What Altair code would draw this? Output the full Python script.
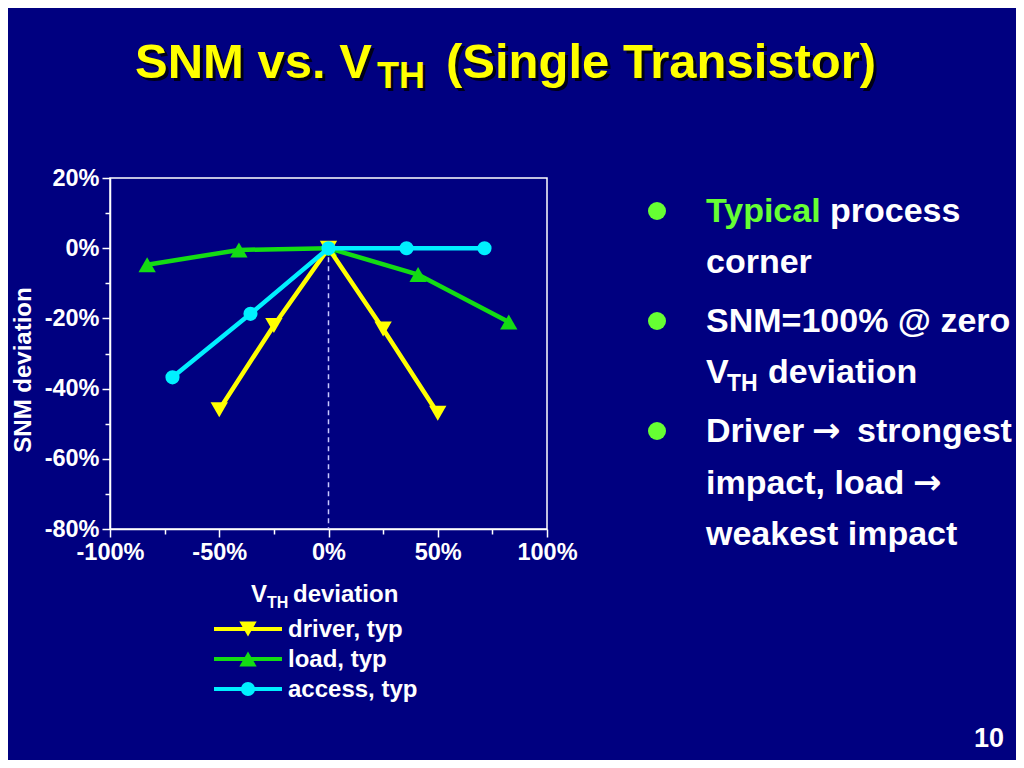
import altair as alt
import pandas as pd

# ---------------- data ----------------
series_names = ["driver, typ", "load, typ", "access, typ"]
series_colors = ["#FFFF00", "#14DC14", "#00F0FF"]
series_shapes = ["triangle-down", "triangle-up", "circle"]

driver_x = [-50, -25, 0, 25, 50]
driver_y = [-46, -22, 0, -23, -47]
load_x = [-83, -41, 0, 41, 82.5]
load_y = [-4.7, -0.5, 0, -7.5, -21]
access_x = [-71.4, -35.7, 0, 35.7, 71.4]
access_y = [-36.8, -18.7, 0, 0, 0]

x_major = [-100, -50, 0, 50, 100]
x_minor = [-75, -25, 25, 75]
y_major = [20, 0, -20, -40, -60, -80]
y_minor = [10, -10, -30, -50, -70]
zero_line_x = [0]
zero_line_y = [0]
zero_line_y2 = [-80]

title_parts = ["SNM vs. V", "TH", "(Single Transistor)"]
x_title_parts = ["V", "TH", "deviation"]
y_title = "SNM deviation"
bullet1 = ["Typical", "process", "corner"]
bullet2 = ["SNM=100% @ zero", "V", "TH", "deviation"]
bullet3 = ["Driver", "\u2192", "strongest", "impact, load", "\u2192", "weakest impact"]
page_number = "10"

BG = "#000080"
FONT = "Liberation Sans"
W, H = 437, 351

xs = alt.Scale(domain=[-100, 100], nice=False, zero=False)
ys = alt.Scale(domain=[-80, 20], nice=False, zero=False)

label_expr = "(datum.value < 0 ? '-' : '') + abs(datum.value) + '%'"

x_axis_major = alt.Axis(values=x_major, orient="bottom", tickSize=8, tickWidth=1.5,
                        tickColor="white", domainColor="white", domainWidth=1.5,
                        labelColor="white", labelFont=FONT, labelFontSize=23.5,
                        labelFontWeight="bold", labelPadding=3, grid=False, title=None,
                        labelExpr=label_expr, labelFlush=False, labelOverlap=False)
y_axis_major = alt.Axis(values=y_major, orient="left", tickSize=8, tickWidth=1.5,
                        tickColor="white", domainColor="white", domainWidth=1.5,
                        labelColor="white", labelFont=FONT, labelFontSize=23.5,
                        labelFontWeight="bold", labelPadding=3, grid=False, title=None,
                        labelExpr=label_expr, labelFlush=False, labelOverlap=False)
x_axis_minor = alt.Axis(values=x_minor, orient="bottom", tickSize=5, tickWidth=1.5,
                        tickColor="white", domain=False, labels=False, grid=False, title=None)
y_axis_minor = alt.Axis(values=y_minor, orient="left", tickSize=5, tickWidth=1.5,
                        tickColor="white", domain=False, labels=False, grid=False, title=None)

layers = []

# dashed zero line (carries the minor ticks)
zdf = pd.DataFrame({"x": zero_line_x, "y": zero_line_y, "y2": zero_line_y2})
layers.append(
    alt.Chart(zdf).mark_rule(color="#C8C8FF", strokeWidth=1.5, strokeDash=[5, 4]).encode(
        x=alt.X("x:Q", scale=xs, axis=x_axis_minor),
        y=alt.Y("y:Q", scale=ys, axis=y_axis_minor),
        y2="y2:Q",
    )
)

series_data = {
    "driver, typ": (driver_x, driver_y),
    "load, typ": (load_x, load_y),
    "access, typ": (access_x, access_y),
}
sizes = {"triangle-down": 300, "triangle-up": 300, "circle": 200}

first = True
for idx in [1, 0, 2]:  # draw order: load, driver, access
    name = series_names[idx]
    color = series_colors[idx]
    shape = series_shapes[idx]
    sx, sy = series_data[name]
    df = pd.DataFrame({"x": sx, "y": sy, "series": [name] * len(sx)})
    xa = x_axis_major if first else None
    ya = y_axis_major if first else None
    layers.append(
        alt.Chart(df).mark_line(color=color, strokeWidth=4.5).encode(
            x=alt.X("x:Q", scale=xs, axis=xa),
            y=alt.Y("y:Q", scale=ys, axis=ya),
        )
    )
    first = False
    layers.append(
        alt.Chart(df).mark_point(color=color, filled=True, opacity=1, shape=shape,
                                 size=sizes[shape], strokeWidth=0).encode(
            x=alt.X("x:Q", scale=xs, axis=None),
            y=alt.Y("y:Q", scale=ys, axis=None),
        )
    )


def txt(s, x, y, size, color="white", align="left", baseline="alphabetic",
        angle=None, font=FONT):
    kw = dict(align=align, baseline=baseline, fontSize=size, font=font,
              fontWeight="bold", color=color)
    if angle is not None:
        kw["angle"] = angle
    return alt.Chart(pd.DataFrame({"t": [s]})).mark_text(**kw).encode(
        text="t:N", x=alt.value(x), y=alt.value(y))


# title with shadow
YEL = "#FFFF00"
SH = "#000018"
for dx, col in [(3, SH), (0, YEL)]:
    layers.append(txt(title_parts[0], 25 + dx, -100 + dx, 49, col))
    layers.append(txt(title_parts[1], 267 + dx, -90 + dx, 36, col))
    layers.append(txt(title_parts[2], 336 + dx, -100 + dx, 49, col))

# axis titles
layers.append(txt(x_title_parts[0], 141, 424, 24))
layers.append(txt(x_title_parts[1], 157, 430, 16))
layers.append(txt(x_title_parts[2], 183, 424, 24))
layers.append(txt(y_title, -86, 192, 24, align="center", baseline="middle", angle=270))

# legend
for i, name in enumerate(series_names):
    ly = 451 + 30 * i
    ldf = pd.DataFrame({"s": [name]})
    layers.append(alt.Chart(ldf).mark_rule(color=series_colors[i], strokeWidth=4).encode(
        x=alt.value(104), x2=alt.value(172), y=alt.value(ly)))
    layers.append(alt.Chart(ldf).mark_point(color=series_colors[i], filled=True, opacity=1,
                                            shape=series_shapes[i],
                                            size=sizes[series_shapes[i]], strokeWidth=0).encode(
        x=alt.value(138), y=alt.value(ly)))
    layers.append(txt(name, 178, ly + 8, 24))

# bullets
GREEN = "#66FF33"
for by in [33, 143, 253]:
    layers.append(alt.Chart(pd.DataFrame({"b": [1]})).mark_circle(
        color=GREEN, opacity=1, size=324).encode(x=alt.value(547), y=alt.value(by)))

BX = 596
BS = 34
layers.append(txt(bullet1[0], BX, 44, BS, GREEN))
layers.append(txt(bullet1[1], 720, 44, BS))
layers.append(txt(bullet1[2], BX, 95, BS))
layers.append(txt(bullet2[0], BX, 154, BS))
layers.append(txt(bullet2[1], BX, 205, BS))
layers.append(txt(bullet2[2], 617, 213, 23))
layers.append(txt(bullet2[3], 658, 205, BS))
layers.append(txt(bullet3[0], BX, 264, BS))
layers.append(txt(bullet3[1], 702, 264, BS, font="DejaVu Sans"))
layers.append(txt(bullet3[2], 747, 264, BS))
layers.append(txt(bullet3[3], BX, 316, BS))
layers.append(txt(bullet3[4], 803, 316, BS, font="DejaVu Sans"))
layers.append(txt(bullet3[5], BX, 367, BS))

# page number
layers.append(txt(page_number, 894, 569, 27, align="right"))

chart = alt.layer(*layers).resolve_axis(x="independent", y="independent").properties(
    width=W, height=H,
    padding={"left": 102, "top": 170, "right": 469, "bottom": 231},
    autosize=alt.AutoSizeParams(type="none"),
    background=BG,
).configure_view(stroke="white", strokeWidth=1.5)

chart.save("out.html", embed_options={"renderer": "svg", "actions": False})
